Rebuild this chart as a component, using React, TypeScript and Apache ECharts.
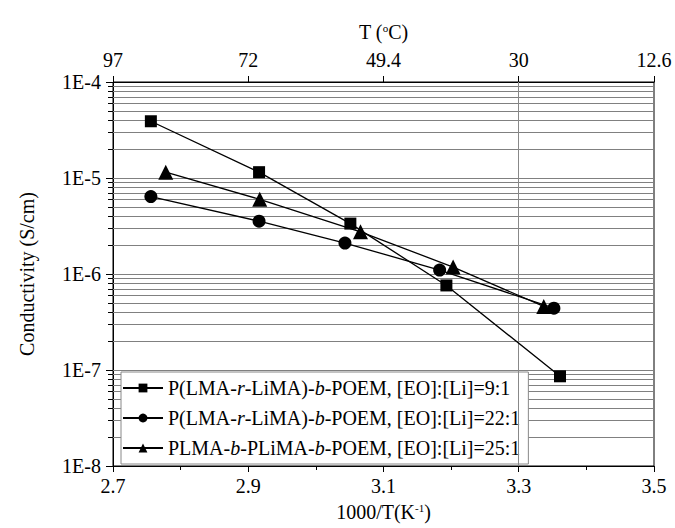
import React, { useEffect, useRef } from "react";
import * as echarts from "echarts";

// ---- axis tick labels ----
const xTickValues = [2.7, 2.9, 3.1, 3.3, 3.5];
const topTickLabels = ["97", "72", "49.4", "30", "12.6"];
const decades = [-8, -7, -6, -5, -4];

// ---- series ----
const seriesNames = [
  "P(LMA-r-LiMA)-b-POEM, [EO]:[Li]=9:1",
  "P(LMA-r-LiMA)-b-POEM, [EO]:[Li]=22:1",
  "PLMA-b-PLiMA-b-POEM, [EO]:[Li]=25:1",
];
const invT_9 = [2.756, 2.916, 3.051, 3.193, 3.361];
const sigma_9 = [3.9e-5, 1.15e-5, 3.35e-6, 7.6e-7, 8.6e-8];
const invT_22 = [2.756, 2.916, 3.043, 3.183, 3.352];
const sigma_22 = [6.4e-6, 3.55e-6, 2.1e-6, 1.1e-6, 4.4e-7];
const invT_25 = [2.778, 2.917, 3.066, 3.203, 3.337];
const sigma_25 = [1.15e-5, 6.0e-6, 2.75e-6, 1.18e-6, 4.6e-7];

const markerShapes = ["rect", "circle", "triangle"];
const markerSizes = [12, 13, 15];

const FONT = "Liberation Serif, Times New Roman, serif";

// gridline positions of the log axis: k * 10^e
const gridValues: number[] = [];
for (let e = -8; e < -4; e++) {
  for (let k = 1; k <= 9; k++) gridValues.push(Number((k * Math.pow(10, e)).toPrecision(3)));
}
gridValues.push(1e-4);

const richName = (n: string) => n.replace(/-r-/g, "-{i|r}-").replace(/-b-/g, "-{i|b}-");

export default function App() {
  const ref = useRef<HTMLDivElement>(null);
  useEffect(() => {
    if (!ref.current) return;
    const chart = echarts.init(ref.current, null, { renderer: "svg" });
    const xs = [invT_9, invT_22, invT_25];
    const ys = [sigma_9, sigma_22, sigma_25];
    const lineSeries = seriesNames.map((name, i) => ({
      type: "line",
      name,
      xAxisIndex: 0,
      yAxisIndex: 0,
      data: xs[i].map((x, j) => [x, ys[i][j]]),
      symbol: markerShapes[i],
      symbolSize: markerSizes[i],
      showSymbol: true,
      itemStyle: { color: "#000" },
      lineStyle: { color: "#000", width: 1.3 },
      z: 5,
      ...(i === 0
        ? {
            markLine: {
              silent: true,
              symbol: ["none", "none"],
              label: { show: false },
              lineStyle: { color: "#888", type: "solid", width: 1 },
              data: [{ xAxis: 3.3 }],
            },
          }
        : {}),
    }));
    const gridSeries = {
      type: "custom",
      name: "grid",
      silent: true,
      clip: false,
      z: 1,
      xAxisIndex: 0,
      yAxisIndex: 0,
      data: gridValues.map((v) => [2.7, v]),
      encode: { x: 0, y: 1 },
      renderItem: (params: any, api: any) => {
        const v = api.value(1);
        const p = api.coord([2.7, v]);
        const cs = params.coordSys;
        const y = Math.round(p[1]) + 0.5;
        const lg = Math.log10(v);
        const isDecade = Math.abs(lg - Math.round(lg)) < 1e-6;
        const children: any[] = [];
        if (Math.abs(y - cs.y) > 1 && Math.abs(y - (cs.y + cs.height)) > 1) {
          children.push({
            type: "line",
            shape: { x1: cs.x, y1: y, x2: cs.x + cs.width, y2: y },
            style: { stroke: "#808080", lineWidth: 1 },
          });
        }
        if (!isDecade) {
          children.push({
            type: "line",
            shape: { x1: cs.x - 5, y1: y, x2: cs.x, y2: y },
            style: { stroke: "#000", lineWidth: 1 },
          });
        }
        return { type: "group", children };
      },
    };
    chart.setOption({
      animation: false,
      backgroundColor: "#fff",
      textStyle: { fontFamily: FONT },
      grid: {
        left: 113,
        right: 21,
        top: 82,
        bottom: 62,
        show: true,
        borderColor: "#000",
        borderWidth: 1,
        backgroundColor: "transparent",
      },
      legend: {
        data: seriesNames,
        orient: "vertical",
        left: 121,
        top: 372,
        itemWidth: 40,
        itemHeight: 11,
        itemGap: 10,
        padding: [6, 8, 6, 1],
        borderColor: "#888",
        borderWidth: 1,
        backgroundColor: "#fff",
        selectedMode: false,
        formatter: (n: string) => richName(n),
        textStyle: {
          fontSize: 20,
          fontFamily: FONT,
          color: "#000",
          rich: { i: { fontStyle: "italic", fontSize: 20, fontFamily: FONT, color: "#000" } },
        },
      },
      xAxis: [
        {
          type: "value",
          position: "bottom",
          min: 2.7,
          max: 3.5,
          interval: 0.2,
          axisLine: { show: true, lineStyle: { color: "#000", width: 1 } },
          axisTick: { show: true, length: 6, lineStyle: { color: "#000" } },
          minorTick: { show: true, splitNumber: 2, length: 4, lineStyle: { color: "#000" } },
          splitLine: { show: false },
          axisLabel: {
            fontSize: 20,
            fontFamily: FONT,
            color: "#000",
            margin: 10,
            formatter: (v: number) => v.toFixed(1),
          },
          name: "1000/T(K{s|-1})",
          nameLocation: "middle",
          nameGap: 36,
          nameTextStyle: {
            fontSize: 20,
            fontFamily: FONT,
            color: "#000",
            rich: { s: { fontSize: 11, fontFamily: FONT, color: "#000", verticalAlign: "top", lineHeight: 12 } },
          },
        },
        {
          type: "value",
          position: "top",
          min: 2.7,
          max: 3.5,
          interval: 0.2,
          axisLine: { show: true, lineStyle: { color: "#000", width: 1 } },
          axisTick: { show: true, length: 6, lineStyle: { color: "#000" } },
          splitLine: { show: false },
          axisLabel: {
            fontSize: 20,
            fontFamily: FONT,
            color: "#000",
            margin: 12,
            formatter: (v: number) => {
              const idx = xTickValues.findIndex((t) => Math.abs(t - v) < 1e-6);
              return idx >= 0 ? topTickLabels[idx] : "";
            },
          },
          name: "T ({s|o}C)",
          nameLocation: "middle",
          nameGap: 40,
          nameTextStyle: {
            fontSize: 20,
            fontFamily: FONT,
            color: "#000",
            rich: { s: { fontSize: 11, fontFamily: FONT, color: "#000", verticalAlign: "top", lineHeight: 12 } },
          },
        },
      ],
      yAxis: [
        {
          type: "log",
          logBase: 10,
          min: Math.pow(10, decades[0]),
          max: Math.pow(10, decades[decades.length - 1]),
          axisLine: { show: true, lineStyle: { color: "#000", width: 1 } },
          axisTick: { show: true, length: 7, lineStyle: { color: "#000" } },
          splitLine: { show: false },
          axisLabel: {
            fontSize: 20,
            fontFamily: FONT,
            color: "#000",
            margin: 12,
            formatter: (v: number) => "1E" + Math.round(Math.log10(v)),
          },
          name: "Conductivity (S/cm)",
          nameLocation: "middle",
          nameGap: 76,
          nameTextStyle: { fontSize: 20, fontFamily: FONT, color: "#000" },
        },
      ],
      series: [gridSeries, ...lineSeries],
    });
    return () => chart.dispose();
  }, []);
  return (
    <div
      ref={ref}
      style={{ position: "fixed", left: 0, top: 0, width: 675, height: 528, background: "#fff" }}
    />
  );
}
